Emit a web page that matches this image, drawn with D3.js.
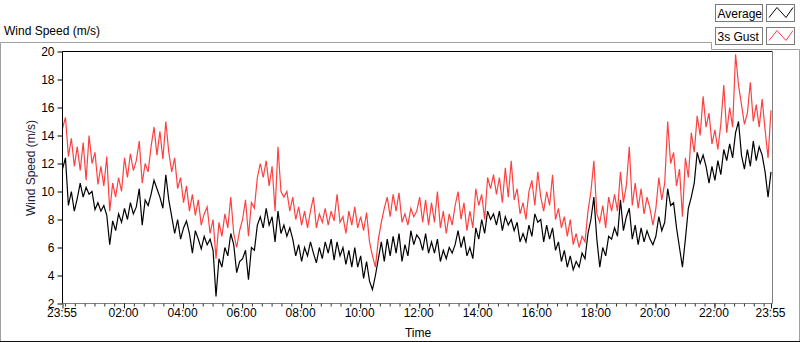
<!DOCTYPE html>
<html>
<head>
<meta charset="utf-8">
<script src="https://cdn.jsdelivr.net/npm/d3@7/dist/d3.min.js"></script>
<style>
  html, body { margin: 0; padding: 0; background: #fff; }
  svg { display: block; }
  text { font-family: "Liberation Sans", Arial, sans-serif; }
</style>
</head>
<body>
<svg id="chart" width="800" height="342"></svg>
<script>
// ---- data ----
const chartTitle = "Wind Speed (m/s)";
const yAxisTitle = "Wind Speed (m/s)";
const xAxisTitle = "Time";
const seriesNames = ["Average", "3s Gust"];
const startTime = new Date(2000, 0, 1, 23, 55);
const endTime = new Date(2000, 0, 2, 23, 55);
const sampleMinutes = 6;
const yTicks = [2, 4, 6, 8, 10, 12, 14, 16, 18, 20];
const xMajorTickLabels = ["23:55", "02:00", "04:00", "06:00", "08:00", "10:00", "12:00", "14:00", "16:00", "18:00", "20:00", "22:00", "23:55"];

const averageValues = [
  11.6, 12.4, 9.0, 10.0, 8.6, 9.5, 10.6, 9.6, 10.3, 9.8,
  10.0, 8.7, 9.2, 8.6, 9.0, 8.3, 6.2, 7.9, 7.2, 8.4,
  7.8, 8.8, 8.0, 9.2, 8.4, 8.9, 10.2, 7.6, 9.4, 9.0,
  9.8, 10.8, 10.2, 9.6, 8.8, 11.2, 9.4, 8.2, 7.0, 8.0,
  6.6, 7.4, 7.9, 7.0, 5.6, 7.2, 6.6, 5.9, 6.8, 6.2,
  6.6, 5.8, 2.5, 5.2, 4.6, 6.0, 5.4, 7.0, 6.2, 4.2,
  5.0, 5.2, 5.8, 3.7, 6.0, 5.8, 7.6, 8.2, 7.4, 8.8,
  7.6, 8.2, 6.4, 8.6, 7.0, 7.6, 6.8, 7.4, 6.6, 5.4,
  6.2, 5.0, 6.0, 5.4, 6.4, 5.6, 4.9, 6.0, 5.2, 6.4,
  5.6, 6.6, 5.1, 6.4, 5.4, 6.0, 4.8, 5.8, 4.6, 6.0,
  4.6, 5.4, 3.8, 5.0, 3.6, 3.0, 4.0, 5.2, 6.4, 5.0,
  6.6, 5.4, 6.8, 5.6, 7.0, 5.0, 6.2, 5.4, 7.2, 6.2,
  6.9, 6.6, 5.8, 7.0, 5.6, 6.4, 5.6, 6.6, 5.0, 5.8,
  5.2, 6.0, 5.6, 6.2, 7.2, 6.0, 6.8, 5.4, 6.0, 5.2,
  7.4, 6.6, 8.0, 7.0, 8.6, 8.0, 8.4, 7.6, 8.6, 7.2,
  8.2, 7.6, 8.0, 7.2, 7.8, 6.4, 7.0, 6.4, 7.6, 6.8,
  8.4, 7.8, 8.0, 6.4, 7.6, 6.6, 7.4, 5.8, 6.4, 5.0,
  5.8, 4.6, 5.4, 4.4, 5.0, 4.6, 5.6, 5.2, 7.0, 8.0,
  9.6, 6.6, 4.6, 6.0, 5.4, 6.8, 6.6, 7.4, 6.8, 9.4,
  7.2, 8.2, 8.8, 6.6, 7.6, 6.2, 7.4, 6.4, 7.2, 6.6,
  6.2, 6.8, 8.2, 7.2, 7.8, 10.2, 9.0, 9.2, 7.4, 6.0,
  4.6, 6.6, 8.8, 9.6, 10.6, 12.8, 12.0, 12.6, 11.8, 10.6,
  11.8, 10.8, 12.2, 11.2, 13.0, 12.2, 13.4, 12.4, 14.2, 15.0,
  12.6, 11.6, 13.0, 11.8, 13.6, 12.2, 13.2, 12.6, 11.4, 9.6,
  11.4
];

const gustValues = [
  14.5, 15.3, 12.5, 13.8, 11.8, 13.2, 11.5, 13.5, 10.8, 14.0,
  12.0, 12.8, 10.5, 11.8, 10.4, 12.5, 8.6, 10.6, 9.6, 11.0,
  10.0, 12.4, 11.0, 12.7, 11.5, 12.2, 13.6, 10.6, 12.0, 11.4,
  13.2, 14.6, 12.6, 14.3, 12.3, 15.0, 12.8, 11.4, 12.4, 10.2,
  11.0, 9.2, 10.4, 8.6, 9.8, 8.3, 9.4, 7.6, 8.4, 8.9,
  7.0, 8.0, 5.2, 7.8, 6.8, 8.4, 7.4, 9.6, 7.0, 6.0,
  7.2, 8.0, 9.4, 6.8, 9.2, 8.8, 11.0, 12.0, 11.0, 12.2,
  10.4, 11.8, 8.6, 13.2, 10.0, 9.6, 10.0, 8.6, 9.6, 8.0,
  8.9, 7.6, 8.6, 7.4, 8.6, 9.6, 7.4, 8.4, 7.8, 8.8,
  7.6, 8.6, 7.9, 9.8, 7.8, 8.2, 7.0, 8.6, 7.6, 8.9,
  7.4, 8.2, 7.2, 8.5, 6.4, 5.4, 4.6, 6.6, 7.8, 8.8,
  9.6, 8.2, 9.8, 8.6, 9.9, 7.8, 8.4, 7.6, 8.8, 8.2,
  8.6, 9.6, 7.8, 9.4, 7.6, 9.2, 7.8, 10.0, 7.4, 8.6,
  7.0, 8.4, 7.6, 9.0, 10.0, 8.0, 9.2, 7.2, 8.6, 7.4,
  10.2, 9.0, 9.8, 8.0, 11.0, 10.2, 11.2, 9.8, 11.0, 9.2,
  11.7, 9.6, 12.2, 9.4, 10.2, 8.4, 9.2, 8.0, 10.0, 10.8,
  9.0, 11.4, 9.6, 8.6, 10.0, 9.0, 11.2, 8.0, 8.8, 7.4,
  8.2, 6.8, 8.0, 6.2, 7.0, 6.0, 6.8, 6.4, 8.6, 10.0,
  12.2, 8.4, 7.8, 9.0, 7.4, 9.6, 8.6, 9.8, 8.6, 11.4,
  9.2, 10.4, 13.2, 9.0, 10.6, 8.8, 10.2, 8.4, 9.6, 8.8,
  7.6, 8.8, 11.0, 9.4, 10.6, 15.0, 12.0, 12.8, 10.4, 11.6,
  8.2, 12.4, 11.0, 14.2, 12.8, 15.4, 14.0, 16.8, 14.6, 15.6,
  13.4, 14.4, 13.0, 14.8, 17.6, 14.2, 16.0, 14.6, 19.8, 17.6,
  16.2, 14.8, 15.6, 17.8, 15.0, 16.2, 14.6, 16.6, 14.4, 12.4,
  15.8
];

// ---- chart ----
const svg = d3.select("#chart");
const plot = { left: 62.5, right: 771, top: 51.5, bottom: 303.5 };

const x = d3.scaleTime().domain([startTime, endTime]).range([plot.left, plot.right]);
const y = d3.scaleLinear().domain([2, 20]).range([plot.bottom, plot.top]);

const timeAt = i => new Date(startTime.getTime() + i * sampleMinutes * 60000);
const avgData = averageValues.map((v, i) => ({ t: timeAt(i), v }));
const gustData = gustValues.map((v, i) => ({ t: timeAt(i), v }));

// outer frame
svg.append("path")
  .attr("d", "M0.5,341 V42.5 H711.5 V49.5 H799.5 V341")
  .attr("fill", "none").attr("stroke", "#a0a0a0");
svg.append("line").attr("x1", 0).attr("x2", 800).attr("y1", 341.5).attr("y2", 341.5)
  .attr("stroke", "#111");

// title
svg.append("text").attr("x", 4).attr("y", 35).attr("font-size", 12).attr("fill", "#000")
  .text(chartTitle);

// clip
svg.append("clipPath").attr("id", "clip").append("rect")
  .attr("x", plot.left).attr("y", plot.top - 1)
  .attr("width", plot.right - plot.left + 1).attr("height", plot.bottom - plot.top + 1);

const line = d3.line().x(d => x(d.t)).y(d => y(d.v));
const g = svg.append("g").attr("clip-path", "url(#clip)");
g.append("path").datum(avgData).attr("d", line)
  .attr("fill", "none").attr("stroke", "#000").attr("stroke-width", 1.2)
  .attr("stroke-linejoin", "miter");
g.append("path").datum(gustData).attr("d", line)
  .attr("fill", "none").attr("stroke", "#ff4040").attr("stroke-width", 1.2)
  .attr("stroke-linejoin", "miter");

// plot border
svg.append("path").attr("d", `M${plot.left},${plot.bottom} V${plot.top} H772.5`)
  .attr("fill", "none").attr("stroke", "#000");
svg.append("path").attr("d", `M${plot.left},${plot.bottom} H772.5 V${plot.top}`)
  .attr("fill", "none").attr("stroke", "#808080");

// y axis
const yAxis = svg.append("g").attr("transform", `translate(${plot.left},0)`)
  .call(d3.axisLeft(y).tickValues(yTicks).tickSize(5).tickPadding(3).tickFormat(d3.format("d")));
yAxis.select(".domain").remove();
yAxis.selectAll(".tick line").attr("stroke", "#000");
yAxis.selectAll(".tick text").attr("font-size", 12).attr("fill", "#000")
  .attr("font-family", "Liberation Sans, Arial, sans-serif");

// x axis: minor ticks every 20 minutes
const minorTicks = d3.timeMinute.every(20).range(new Date(2000, 0, 2, 0, 0), endTime);
const xMinor = svg.append("g").attr("transform", `translate(0,${plot.bottom})`)
  .call(d3.axisBottom(x).tickValues(minorTicks).tickSize(3).tickFormat(""));
xMinor.select(".domain").remove();
xMinor.selectAll(".tick line").attr("stroke", "#333");

const majorTicks = [startTime].concat(d3.timeHour.every(2).range(new Date(2000, 0, 2, 1, 0), new Date(2000, 0, 2, 23, 0)), [endTime]);
const xMajor = svg.append("g").attr("transform", `translate(0,${plot.bottom})`)
  .call(d3.axisBottom(x).tickValues(majorTicks).tickSize(5).tickPadding(0)
    .tickFormat((d, i) => xMajorTickLabels[i]));
xMajor.select(".domain").remove();
xMajor.selectAll(".tick line").attr("stroke", "#222");
xMajor.selectAll(".tick text").attr("font-size", 12).attr("fill", "#000")
  .attr("font-family", "Liberation Sans, Arial, sans-serif").attr("dx", "-1");

// axis titles
svg.append("text").attr("x", 418).attr("y", 337).attr("text-anchor", "middle")
  .attr("font-size", 12).attr("fill", "#000").text(xAxisTitle);
svg.append("text").attr("transform", "translate(35,168) rotate(-90)")
  .attr("text-anchor", "middle").attr("font-size", 12).attr("fill", "#1a2440").text(yAxisTitle);

// legend
const legendColors = ["#000", "#ff4040"];
const legend = svg.append("g");
seriesNames.forEach((name, i) => {
  const top = 4.5 + i * 23;
  legend.append("rect").attr("x", 715.5).attr("y", top).attr("width", 47).attr("height", 17)
    .attr("fill", "#fff").attr("stroke", "#7a7a7a");
  legend.append("text").attr("x", 717.5).attr("y", top + 13).attr("font-size", 12)
    .attr("fill", "#000").text(name);
  legend.append("rect").attr("x", 766.5).attr("y", top).attr("width", 28).attr("height", 17)
    .attr("fill", "#fff").attr("stroke", "#7a7a7a");
  legend.append("path")
    .attr("d", `M769,${top + 13} L777,${top + 3} L786,${top + 13} L793,${top + 3}`)
    .attr("fill", "none").attr("stroke", legendColors[i]).attr("stroke-width", 1);
});
</script>
</body>
</html>
